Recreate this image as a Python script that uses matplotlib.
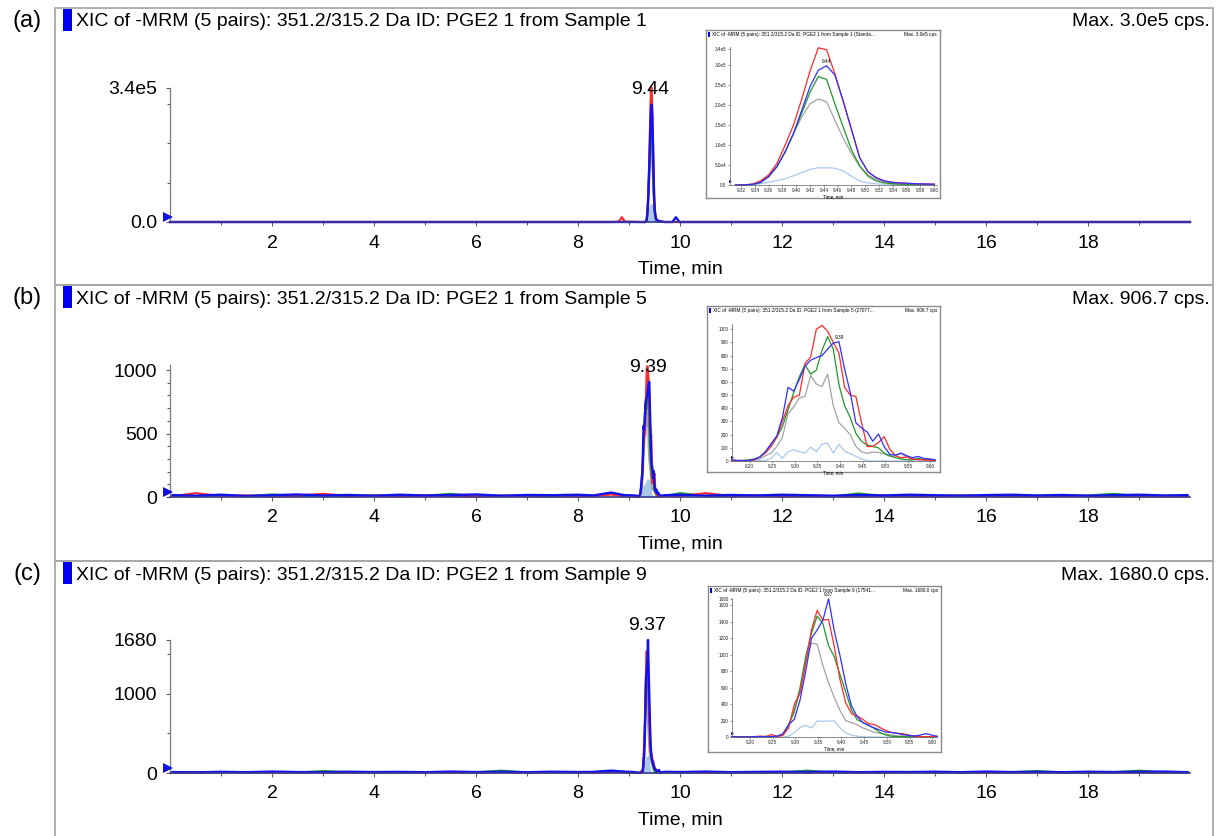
import numpy as np
import matplotlib
matplotlib.use("Agg")
import matplotlib.pyplot as plt
from matplotlib.patches import Rectangle

plt.rcParams['font.family'] = ['Liberation Sans', 'DejaVu Sans']

# ---------------- text ----------------
panel_labels = ['(a)', '(b)', '(c)']
titles = ['XIC of -MRM (5 pairs): 351.2/315.2 Da ID: PGE2 1 from Sample 1',
          'XIC of -MRM (5 pairs): 351.2/315.2 Da ID: PGE2 1 from Sample 5',
          'XIC of -MRM (5 pairs): 351.2/315.2 Da ID: PGE2 1 from Sample 9']
max_labels = ['Max. 3.0e5 cps.', 'Max. 906.7 cps.', 'Max. 1680.0 cps.']
inset_titles = ['XIC of -MRM (5 pairs): 351.2/315.2 Da ID: PGE2 1 from Sample 1 (Standa...',
                'XIC of -MRM (5 pairs): 351.2/315.2 Da ID: PGE2 1 from Sample 5 (27077...',
                'XIC of -MRM (5 pairs): 351.2/315.2 Da ID: PGE2 1 from Sample 9 (17541...']
inset_max_labels = ['Max. 3.0e5 cps', 'Max. 906.7 cps', 'Max. 1680.0 cps']
peak_labels = ['9.44', '9.39', '9.37']
peak_rts = [9.44, 9.39, 9.37]
x_label = 'Time, min'

main_xticks = [2, 4, 6, 8, 10, 12, 14, 16, 18]
main_xminor = [1, 3, 5, 7, 9, 11, 13, 15, 17, 19]
main_yticks = [[0, 3.4e5], [0, 500, 1000], [0, 1000, 1680]]
main_yticklabels = [['0.0', '3.4e5'], ['0', '500', '1000'], ['0', '1000', '1680']]
main_yminor = [[1e5, 2e5, 3e5], [100, 200, 300, 400, 600, 700, 800, 900], [500, 1500]]
main_ymax = [3.4e5, 1040, 1680]

inset_xticks = [[9.32, 9.34, 9.36, 9.38, 9.40, 9.42, 9.44, 9.46, 9.48, 9.50, 9.52, 9.54, 9.56, 9.58, 9.60],
                [9.20, 9.25, 9.30, 9.35, 9.40, 9.45, 9.50, 9.55, 9.60],
                [9.20, 9.25, 9.30, 9.35, 9.40, 9.45, 9.50, 9.55, 9.60]]
inset_xlims = [(9.304, 9.604), (9.161, 9.61), (9.161, 9.61)]
inset_yticks = [[0, 5e4, 1e5, 1.5e5, 2e5, 2.5e5, 3e5, 3.4e5],
                [0, 100, 200, 300, 400, 500, 600, 700, 800, 900, 1000],
                [0, 200, 400, 600, 800, 1000, 1200, 1400, 1600, 1680]]
inset_yticklabels = [['0.0', '5.0e4', '1.0e5', '1.5e5', '2.0e5', '2.5e5', '3.0e5', '3.4e5'],
                     ['0', '100', '200', '300', '400', '500', '600', '700', '800', '900', '1000'],
                     ['0', '200', '400', '600', '800', '1000', '1200', '1400', '1600', '1680']]
inset_ymax = [3.45e5, 1040, 1690]

# ---------------- data: peak region (a), values in thousands of cps ----------------
t_a = [9.312, 9.324, 9.336, 9.348, 9.360, 9.372, 9.384, 9.396, 9.408, 9.420, 9.432, 9.444, 9.456,
       9.468, 9.480, 9.492, 9.504, 9.516, 9.528, 9.540, 9.552, 9.564, 9.576, 9.588, 9.600]
red_a_k = [0, 0.5, 2, 10, 25, 54, 100, 150, 215, 285, 343, 338, 278, 210, 139, 68, 33, 18, 10, 6.5, 5, 4, 3, 2.5, 2]
blue_a_k = [0, 0.3, 1.5, 6, 21, 46, 83, 129, 187, 246, 287, 298, 275, 210, 139, 68, 33, 18, 10, 6.5, 5, 4, 3, 2.5, 2]
green_a_k = [0, 0.3, 1.5, 6, 21, 46, 83, 128, 180, 232, 271, 264, 203, 145, 88, 48, 22, 10, 5, 3, 2, 1.5, 1, 1, 1]
gray_a_k = [0, 0.3, 1.5, 6, 21, 46, 83, 128, 170, 203, 215, 208, 162, 117, 79, 46, 25, 14, 8, 4, 3, 2, 1.5, 1, 1]
lblue_a_k = [0, 0, 0.5, 3, 7, 11, 16, 23, 31, 39, 43, 43, 42, 35, 22, 10, 5, 3, 2, 1, 0.5, 0, 0, 0, 0]

# baseline outside the peak (a), thousands of cps
base_t_a = [0.0, 8.70, 8.80, 8.86, 8.92, 9.20, 9.70, 9.85, 9.92, 9.99, 20.0]
base_red_a_k = [0, 0, 1, 12, 1, 0, 0, 0, 0, 0, 0]
base_blue_a_k = [0, 0, 0, 0, 0, 0, 0, 0, 12, 0, 0]

# ---------------- data: peak region (b) and (c), cps ----------------
t_bc = [9.16, 9.1725, 9.185, 9.1975, 9.21, 9.2225, 9.235, 9.2475, 9.26, 9.2725, 9.285, 9.2975,
        9.31, 9.3225, 9.335, 9.3475, 9.36, 9.3725, 9.385, 9.3975, 9.41, 9.4225, 9.435, 9.4475,
        9.46, 9.4725, 9.485, 9.4975, 9.51, 9.5225, 9.535, 9.5475, 9.56, 9.5725, 9.585, 9.5975, 9.61]

red_b = [0, 3, 5, 2, 8, 30, 60, 110, 180, 300, 420, 485, 500, 740, 790, 1000, 1030, 985, 900, 820,
         560, 500, 490, 290, 110, 110, 140, 185, 90, 40, 25, 30, 15, 10, 8, 5, 5]
blue_b = [10, 5, 3, 5, 12, 30, 70, 130, 190, 330, 560, 530, 620, 720, 765, 785, 800, 850, 895, 906,
          700, 520, 290, 250, 220, 150, 205, 110, 50, 45, 60, 40, 25, 35, 20, 15, 10]
green_b = [5, 3, 2, 8, 15, 30, 70, 130, 180, 260, 390, 520, 640, 730, 660, 690, 840, 945, 850, 580,
           420, 330, 210, 150, 121, 110, 100, 60, 40, 25, 15, 10, 8, 20, 10, 15, 5]
gray_b = [2, 2, 3, 3, 5, 15, 40, 60, 110, 180, 360, 410, 480, 490, 650, 585, 565, 660, 420, 290,
          250, 200, 110, 70, 58, 68, 65, 55, 35, 40, 55, 30, 15, 20, 10, 8, 5]
lblue_b = [0, 0, 0, 0, 0, 2, 5, 20, 65, 20, 70, 85, 70, 60, 105, 70, 129, 134, 60, 127, 75, 55, 35,
           15, 3, 0, 0, 0, 0, 0, 0, 0, 0, 0, 0, 0, 0]

red_c = [0, 2, 0, 3, 5, 10, 5, 30, 5, 20, 110, 400, 530, 900, 1300, 1540, 1420, 1430, 1100, 700,
         417, 285, 255, 215, 162, 152, 115, 80, 55, 45, 40, 25, 10, 5, 3, 5, 10]
blue_c = [5, 3, 0, 2, 3, 5, 3, 5, 10, 40, 150, 215, 450, 800, 1200, 1300, 1420, 1680, 1290, 990,
          650, 380, 250, 175, 142, 110, 85, 60, 55, 45, 28, 20, 12, 22, 40, 25, 8]
green_c = [5, 3, 2, 4, 3, 5, 8, 5, 10, 30, 150, 320, 600, 980, 1260, 1470, 1380, 1110, 975, 760,
           550, 330, 210, 178, 142, 105, 55, 25, 10, 5, 5, 3, 5, 3, 5, 3, 5]
gray_c = [3, 2, 3, 2, 4, 5, 3, 5, 10, 30, 140, 300, 560, 930, 1140, 1130, 870, 660, 480, 325,
          200, 175, 150, 110, 85, 55, 45, 35, 25, 15, 10, 8, 5, 5, 3, 2, 0]
lblue_c = [0, 0, 0, 0, 0, 0, 0, 0, 0, 0, 10, 50, 115, 140, 110, 195, 190, 195, 195, 110, 50, 25,
           10, 3, 0, 0, 0, 0, 0, 0, 0, 0, 0, 0, 0, 0, 0]

# baseline noise outside the peak (b), (c), cps
base_t_bc = [0.05, 0.5, 1.0, 1.5, 2.0, 2.5, 3.0, 3.5, 4.0, 4.5, 5.0, 5.5, 6.0, 6.5, 7.0, 7.5, 8.0,
             8.3, 8.65, 8.9, 9.1, 9.7, 10.0, 10.5, 11.0, 11.5, 12.0, 12.5, 13.0, 13.5, 14.0, 14.5,
             15.0, 15.5, 16.0, 16.5, 17.0, 17.5, 18.0, 18.5, 19.0, 19.5, 19.95]
base_blue_b = [15, 10, 18, 8, 14, 20, 12, 16, 10, 18, 12, 15, 20, 10, 16, 14, 18, 12, 35, 15, 12,
               14, 18, 10, 16, 12, 18, 14, 10, 16, 12, 18, 14, 10, 15, 18, 12, 16, 10, 14, 18, 12, 15]
base_red_b = [5, 30, 8, 12, 6, 10, 25, 8, 10, 6, 12, 8, 5, 10, 8, 12, 6, 10, 20, 8, 5,
              10, 6, 30, 8, 12, 6, 10, 8, 5, 12, 8, 6, 10, 8, 12, 5, 10, 8, 6, 12, 8, 5]
base_green_b = [8, 5, 12, 6, 20, 8, 10, 6, 12, 8, 10, 25, 6, 10, 8, 5, 12, 8, 25, 10, 6,
                8, 30, 10, 6, 12, 8, 10, 5, 28, 8, 6, 10, 12, 8, 6, 10, 8, 12, 25, 8, 6, 10]
base_blue_c = [12, 8, 15, 10, 18, 12, 10, 16, 12, 14, 10, 18, 12, 15, 10, 16, 12, 14, 30, 18, 12,
               15, 12, 18, 10, 14, 16, 12, 18, 10, 14, 12, 16, 10, 18, 12, 14, 10, 16, 12, 15, 18, 10]
base_red_c = [6, 10, 8, 12, 5, 10, 8, 6, 12, 8, 10, 6, 8, 12, 6, 10, 8, 5, 15, 8, 6,
              8, 12, 6, 10, 8, 12, 6, 10, 8, 6, 12, 8, 10, 6, 8, 12, 6, 10, 8, 6, 10, 8]
base_green_c = [8, 6, 10, 8, 12, 6, 25, 10, 8, 6, 12, 10, 8, 30, 6, 10, 8, 12, 20, 8, 6,
                10, 8, 12, 6, 10, 8, 30, 6, 10, 8, 12, 10, 6, 8, 10, 25, 8, 6, 10, 30, 8, 6]

# ---------------- style ----------------
C_RED = '#ff2a2a'
C_BLUE = '#1212ee'
C_GREEN = '#23962a'
C_GRAY = '#a3a3a3'
C_LB = '#aac8ee'
C_FRAME = '#a8a8a8'

W, H = 1220, 836
fig = plt.figure(figsize=(W / 100, H / 100), dpi=100)
fig.patch.set_facecolor('white')


def rect(l, t, r, b):
    return [l / W, 1 - b / H, (r - l) / W, (b - t) / H]


def fy(y):
    return 1 - y / H


def combine(bt, bv, pt, pv):
    t = np.concatenate([np.asarray(bt, float), np.asarray(pt, float)])
    v = np.concatenate([np.asarray(bv, float), np.asarray(pv, float)])
    o = np.argsort(t)
    return t[o], v[o]


# per panel series (cps)
peak_t = [np.array(t_a), np.array(t_bc), np.array(t_bc)]
peak = [
    dict(red=np.array(red_a_k) * 1e3, blue=np.array(blue_a_k) * 1e3, green=np.array(green_a_k) * 1e3,
         gray=np.array(gray_a_k) * 1e3, lb=np.array(lblue_a_k) * 1e3),
    dict(red=np.array(red_b, float), blue=np.array(blue_b, float), green=np.array(green_b, float),
         gray=np.array(gray_b, float), lb=np.array(lblue_b, float)),
    dict(red=np.array(red_c, float), blue=np.array(blue_c, float), green=np.array(green_c, float),
         gray=np.array(gray_c, float), lb=np.array(lblue_c, float)),
]
base = [
    dict(t=base_t_a, red=np.array(base_red_a_k) * 1e3, blue=np.array(base_blue_a_k) * 1e3, green=None),
    dict(t=base_t_bc, red=base_red_b, blue=base_blue_b, green=base_green_b),
    dict(t=base_t_bc, red=base_red_c, blue=base_blue_c, green=base_green_c),
]

panel_tops = [8, 285, 561]
panel_bottoms = [285, 561, 842]
axes_px = [(170, 88, 1190, 222), (170, 365, 1190, 497), (170, 640, 1190, 773)]
peak_label_px = [90, 368, 625]
inset_frames = [(706, 30, 940, 198), (707, 306, 940, 472), (708, 586, 941, 752)]
inset_axes_px = [(730, 47, 937, 185), (732, 324, 935, 461), (732, 598, 937, 737)]

for i in range(3):
    top, bot = panel_tops[i], panel_bottoms[i]
    # panel frame
    fig.add_artist(Rectangle((55 / W, fy(bot)), (1213 - 55) / W, (bot - top) / H,
                             transform=fig.transFigure, fill=False, edgecolor=C_FRAME, lw=1.3))
    # header
    fig.add_artist(Rectangle((63 / W, fy(top + 23)), 9 / W, 22 / H, transform=fig.transFigure,
                             facecolor='#0000f0', edgecolor='none'))
    fig.text(76 / W, fy(top + 14), titles[i], fontsize=14, ha='left', va='center')
    fig.text(1210 / W, fy(top + 14), max_labels[i], fontsize=14, ha='right', va='center')
    fig.text(27 / W, fy(top + 13), panel_labels[i], fontsize=17, ha='center', va='center')

    # ---------- main axes ----------
    l, t, r, b = axes_px[i]
    ax = fig.add_axes(rect(l, t, r, b))
    ax.patch.set_alpha(0)
    ymax = main_ymax[i]
    ax.set_xlim(0, 20)
    ax.set_ylim(0, ymax)
    for s in ['top', 'right']:
        ax.spines[s].set_visible(False)
    ax.spines['left'].set_color('#7a7a7a')
    ax.spines['left'].set_linewidth(0.9)
    ax.spines['bottom'].set_color('#3a3a90')
    ax.spines['bottom'].set_linewidth(1.2)

    pt = peak_t[i]
    pk = peak[i]
    bs = base[i]
    ax.fill_between(pt, 0, pk['lb'], color=C_LB, lw=0, zorder=2)
    ax.plot(pt, pk['lb'], color=C_LB, lw=1.2, zorder=2.1, clip_on=False)
    ax.plot(pt, pk['gray'], color=C_GRAY, lw=1.5, zorder=2.2, clip_on=False)
    if bs['green'] is not None:
        tg, vg = combine(bs['t'], bs['green'], pt, pk['green'])
    else:
        tg, vg = pt, pk['green']
    ax.plot(tg, vg, color=C_GREEN, lw=1.5, zorder=2.3, clip_on=False)
    tr, vr = combine(bs['t'], bs['red'], pt, pk['red'])
    ax.plot(tr, vr, color=C_RED, lw=1.6, zorder=2.4, clip_on=False)
    tb, vb = combine(bs['t'], bs['blue'], pt, pk['blue'])
    ax.plot(tb, vb, color=C_BLUE, lw=1.7, zorder=2.5, clip_on=False)

    ax.set_xticks(main_xticks)
    ax.set_xticks(main_xminor, minor=True)
    ax.set_yticks(main_yticks[i])
    ax.set_yticklabels(main_yticklabels[i])
    ax.set_yticks(main_yminor[i], minor=True)
    ax.tick_params(axis='both', which='major', direction='out', length=3, width=0.8,
                   colors='#606060', labelcolor='black', labelsize=14)
    ax.tick_params(axis='x', which='major', pad=6)
    ax.tick_params(axis='y', which='major', pad=6)
    ax.tick_params(axis='both', which='minor', direction='out', length=2.5, width=0.8, colors='#606060')

    # start marker
    ax.plot([-0.03], [ymax * 5.5 / (b - t)], marker='>', ms=7, color='#1010e0', clip_on=False,
            zorder=5, markeredgewidth=0)
    # peak label
    ax.text(peak_rts[i] - 0.02, ymax * (b - peak_label_px[i]) / (b - t), peak_labels[i],
            fontsize=14, ha='center', va='center', clip_on=False, zorder=6)
    fig.text((l + r) / 2 / W, fy(b + 47), x_label, fontsize=14, ha='center', va='center')

    # ---------- inset ----------
    fl, ft, fr, fb = inset_frames[i]
    fa = fig.add_axes(rect(fl, ft, fr, fb))
    fa.set_xticks([])
    fa.set_yticks([])
    fa.set_facecolor('white')
    for s in fa.spines.values():
        s.set_color('#8a8a8a')
        s.set_linewidth(1.0)
    fig.add_artist(Rectangle(((fl + 2) / W, fy(ft + 7)), 2 / W, 5 / H, transform=fig.transFigure,
                             facecolor='#0000f0', edgecolor='none', zorder=10))
    fig.text((fl + 6) / W, fy(ft + 4.5), inset_titles[i], fontsize=3.4, ha='left', va='center',
             zorder=10)
    fig.text((fr - 3) / W, fy(ft + 4.5), inset_max_labels[i], fontsize=3.4, ha='right', va='center',
             zorder=10)

    il, it, ir, ib = inset_axes_px[i]
    ia = fig.add_axes(rect(il, it, ir, ib))
    ia.patch.set_alpha(0)
    ia.set_xlim(*inset_xlims[i])
    ia.set_ylim(0, inset_ymax[i])
    for s in ['top', 'right']:
        ia.spines[s].set_visible(False)
    for s in ['left', 'bottom']:
        ia.spines[s].set_color('#606060')
        ia.spines[s].set_linewidth(0.5)
    ia.plot(pt, pk['lb'], color=C_LB, lw=0.9, clip_on=False)
    ia.plot(pt, pk['gray'], color=C_GRAY, lw=0.9, clip_on=False)
    ia.plot(pt, pk['green'], color=C_GREEN, lw=0.9, clip_on=False)
    ia.plot(pt, pk['red'], color=C_RED, lw=0.9, clip_on=False)
    ia.plot(pt, pk['blue'], color='#3030ff', lw=0.9, clip_on=False)
    ia.set_xticks(inset_xticks[i])
    ia.set_xticklabels(['%.2f' % v for v in inset_xticks[i]])
    ia.set_yticks(inset_yticks[i])
    ia.set_yticklabels(inset_yticklabels[i])
    ia.tick_params(axis='both', direction='out', length=1.5, width=0.4, colors='#505050',
                   labelcolor='#202020', labelsize=3.3, pad=1)
    ia.set_xlabel(x_label, fontsize=3.3, labelpad=0.5)
    ia.plot([inset_xlims[i][0]], [inset_ymax[i] * 0.03], marker='>', ms=2.2, color='#101080',
            clip_on=False, markeredgewidth=0)
    k = int(np.argmax(pk['blue']))
    ia.text(pt[k], pk['blue'][k] + inset_ymax[i] * 0.012, peak_labels[i], fontsize=3.4,
            ha='center', va='bottom')

fig.savefig('out.png', dpi=100, facecolor='white')
